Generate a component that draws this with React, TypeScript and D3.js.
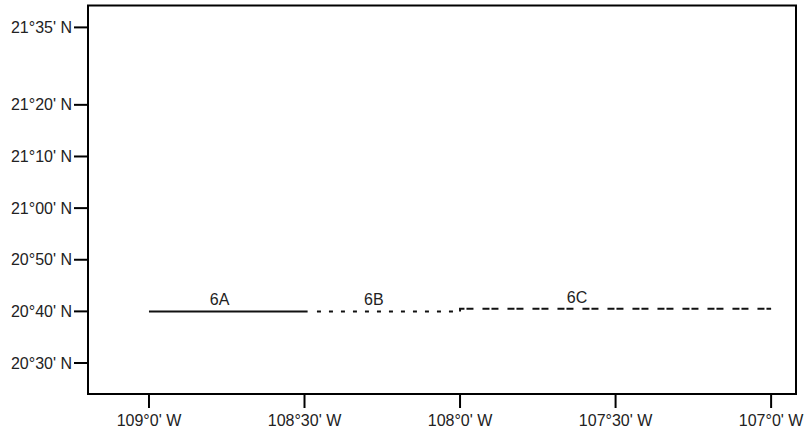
import React from "react";
import * as d3 from "d3";

const xTickValues = [-109.0, -108.5, -108.0, -107.5, -107.0];
const xTickLabels = ["109°0' W", "108°30' W", "108°0' W", "107°30' W", "107°0' W"];
const yTickValues = [20.5, 20 + 40 / 60, 20 + 50 / 60, 21.0, 21 + 10 / 60, 21 + 20 / 60, 21 + 35 / 60];
const yTickLabels = ["20°30' N", "20°40' N", "20°50' N", "21°00' N", "21°10' N", "21°20' N", "21°35' N"];

const seriesNames = ["6A", "6B", "6C"];
const seriesPoints: [number, number][][] = [
  [[-109.0, 20 + 40 / 60], [-108.49, 20 + 40 / 60]],
  [[-108.46, 20 + 40 / 60], [-108.0, 20 + 40 / 60]],
  [[-108.0, 20 + 40 / 60], [-108.0, 20 + 40.5 / 60], [-107.0, 20 + 40.5 / 60]],
];
const labelPositions: [number, number][] = [
  [-108.773, 20 + 40 / 60],
  [-108.277, 20 + 40 / 60],
  [-107.624, 20 + 40.5 / 60],
];
const dashes = ["none", "4,8", "7,2,7,9"];

export default function App() {
  const W = 804, H = 432;
  const left = 88, right = 796, top = 5.5, bottom = 394;
  const x = d3.scaleLinear().domain([-109.196, -106.92]).range([left, right]);
  const y = d3.scaleLinear().domain([20.4, 21.654]).range([bottom, top]);
  const line = d3.line<[number, number]>().x(d => x(d[0])).y(d => y(d[1]));
  const font = "Arial, 'Liberation Sans', sans-serif";
  return (
    <svg width={W} height={H} style={{ position: "absolute", left: 0, top: 0, background: "#fff" }}
      fontFamily={font} fontSize={16}>
      <rect x={left} y={top} width={right - left} height={bottom - top} fill="none" stroke="#000" strokeWidth={2} />
      {yTickValues.map((v, i) => (
        <g key={"y" + i}>
          <line x1={left - 14} x2={left} y1={y(v)} y2={y(v)} stroke="#000" strokeWidth={2} />
          <text x={left - 16} y={y(v)} dy="0.35em" textAnchor="end" fill="#222">{yTickLabels[i]}</text>
        </g>
      ))}
      {xTickValues.map((v, i) => (
        <g key={"x" + i}>
          <line x1={x(v)} x2={x(v)} y1={bottom} y2={bottom + 14} stroke="#000" strokeWidth={2} />
          <text x={x(v)} y={426} textAnchor="middle" fill="#222">{xTickLabels[i]}</text>
        </g>
      ))}
      {seriesPoints.map((pts, i) => (
        <path key={"s" + i} d={line(pts) || ""} fill="none" stroke="#111" strokeWidth={2}
          strokeDasharray={dashes[i] === "none" ? undefined : dashes[i]} />
      ))}
      {seriesNames.map((n, i) => (
        <text key={"l" + i} x={x(labelPositions[i][0])} y={y(labelPositions[i][1]) - 6}
          textAnchor="middle" fill="#222">{n}</text>
      ))}
    </svg>
  );
}
